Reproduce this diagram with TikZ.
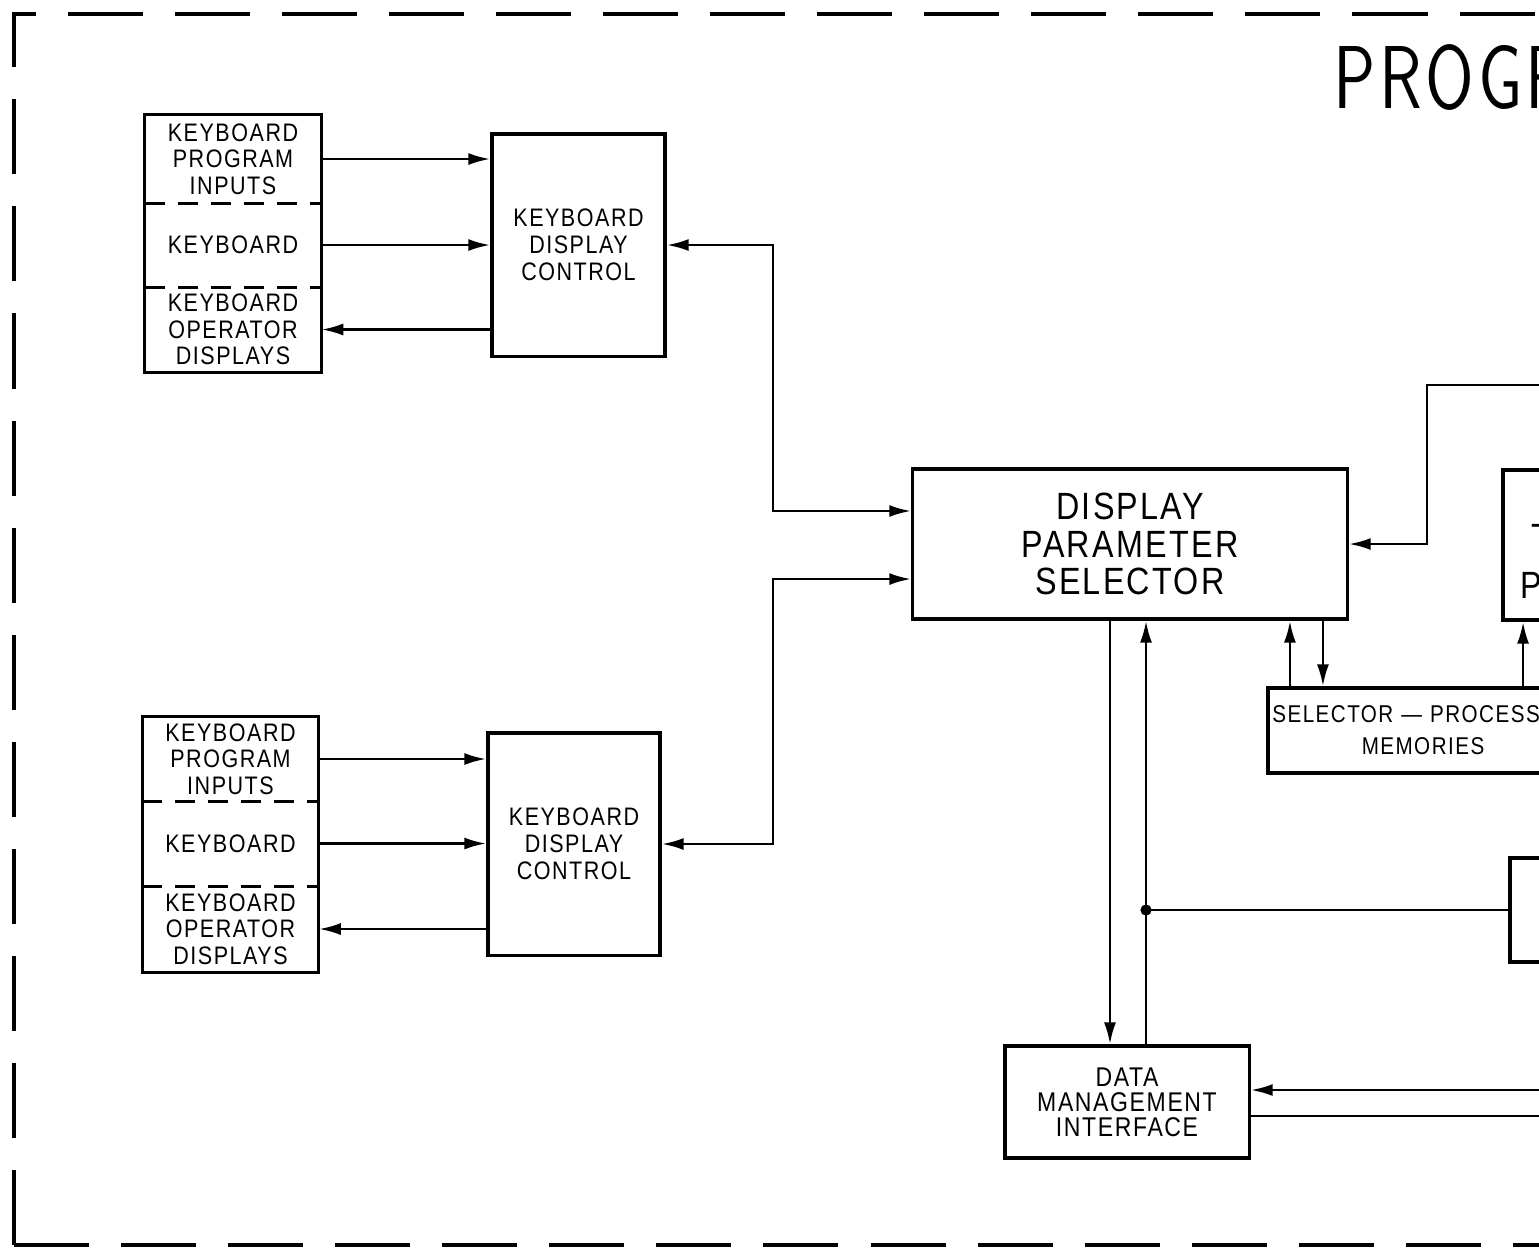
\documentclass[tikz,border=0pt]{standalone}
\usepackage{fontspec}
\usepackage{tikz}
\usetikzlibrary{arrows.meta, positioning, calc}
\newfontfamily\labelfont[FakeStretch=0.85,LetterSpace=6]{Liberation Sans}
\newfontfamily\titlefont[FakeStretch=0.74,LetterSpace=4]{lmsans10-regular.otf}
\newcommand{\smalllbl}{\labelfont\fontsize{7.2}{7.5}\selectfont}
\newcommand{\biglbl}{\labelfont\fontsize{10.8}{10.6}\selectfont}

\begin{document}
\begin{tikzpicture}[
    x=0.01cm, y=-0.01cm,
    block/.style={draw, line width=0.9pt, align=center, inner sep=0pt, font=\smalllbl},
    cell/.style={align=center, inner sep=0pt, font=\smalllbl, minimum width=1.75cm},
    flow/.style={-{Latex[length=2.2mm,width=1.2mm]}, line width=0.8pt},
    both/.style={{Latex[length=2.2mm,width=1.2mm]}-{Latex[length=2.2mm,width=1.2mm]}, line width=0.8pt},
    divider/.style={line width=0.8pt, dash pattern=on 2mm off 1.3mm},
    frame/.style={line width=1.3pt, dash pattern=on 7.5mm off 3.2mm}
]
    \useasboundingbox (0,0) rectangle (1539,1256);
    \fill[white] (0,0) rectangle (1539,1256);

    % outer frame
    \draw[frame] (14,1245) -- (14,14) -- (1600,14);
    \draw[frame] (14,1245) -- (1600,1245);

    % title
    \node[anchor=west, inner sep=0pt, font=\titlefont\fontsize{25.4}{26}\selectfont] (title) at (1333,77) {PROGR};

    % upper keyboard group
    \node[cell, minimum height=0.88cm] (kpi1) at (233,159) {KEYBOARD\\PROGRAM\\INPUTS};
    \node[cell, minimum height=0.84cm] (kb1) at (233,245) {KEYBOARD};
    \node[cell, minimum height=0.85cm] (kod1) at (233,329.5) {KEYBOARD\\OPERATOR\\DISPLAYS};
    \draw[line width=0.9pt] (kpi1.north west) rectangle (kod1.south east);
    \draw[divider] (kpi1.south west) -- (kpi1.south east);
    \draw[divider] (kb1.south west) -- (kb1.south east);
    \node[block, minimum width=1.73cm, minimum height=2.22cm, font=\labelfont\fontsize{7.2}{7.7}\selectfont] (kdc1) at (578.5,245) {KEYBOARD\\DISPLAY\\CONTROL};

    % lower keyboard group
    \node[cell, minimum height=0.84cm] (kpi2) at (230.5,759) {KEYBOARD\\PROGRAM\\INPUTS};
    \node[cell, minimum height=0.85cm] (kb2) at (230.5,843.5) {KEYBOARD};
    \node[cell, minimum height=0.86cm] (kod2) at (230.5,929) {KEYBOARD\\OPERATOR\\DISPLAYS};
    \draw[line width=0.9pt] (kpi2.north west) rectangle (kod2.south east);
    \draw[divider] (kpi2.south west) -- (kpi2.south east);
    \draw[divider] (kb2.south west) -- (kb2.south east);
    \node[block, minimum width=1.72cm, minimum height=2.22cm, font=\labelfont\fontsize{7.2}{7.7}\selectfont] (kdc2) at (574,844) {KEYBOARD\\DISPLAY\\CONTROL};

    % centre blocks
    \node[block, minimum width=4.34cm, minimum height=1.50cm, font=\biglbl] (dps) at (1130,544) {DISPLAY\\PARAMETER\\SELECTOR};
    \node[block, minimum width=2.44cm, minimum height=1.12cm, font=\labelfont\fontsize{7.7}{7.1}\selectfont] (dmi) at (1127,1102) {DATA\\MANAGEMENT\\INTERFACE};
    \node[block, minimum width=3.10cm, minimum height=0.85cm, text width=3.10cm, font=\labelfont\fontsize{6.9}{9.1}\selectfont] (spm) at (1423,730.5) {SELECTOR — PROCESSOR\\MEMORIES};

    % right blocks (cut by the sheet edge)
    \node[block, minimum width=2.00cm, minimum height=1.50cm] (tproc) at (1603,545) {};
    \node[anchor=west, inner sep=0pt, font=\biglbl] (tp1) at (1531,537) {T};
    \node[anchor=west, inner sep=0pt, font=\biglbl] (tp2) at (1520,585) {P};
    \node[block, minimum width=2.00cm, minimum height=1.04cm] (rb2) at (1610,910) {};

    % keyboard links
    \draw[flow] (kpi1.east) -- (kpi1.east -| kdc1.west);
    \draw[flow] (kb1.east) -- (kb1.east -| kdc1.west);
    \draw[flow] (kod1.east -| kdc1.west) -- (kod1.east);
    \draw[flow] (kpi2.east) -- (kpi2.east -| kdc2.west);
    \draw[flow] (kb2.east) -- (kb2.east -| kdc2.west);
    \draw[flow] (kod2.east -| kdc2.west) -- (kod2.east);

    % display controls to selector
    \coordinate (bus) at (773,0);
    \draw[both] (kdc1.east) -- (kdc1.east -| bus) |- ([yshift=0.33cm]dps.west);
    \draw[both] (kdc2.east) -- (kdc2.east -| bus) |- ([yshift=-0.35cm]dps.west);

    % from the right
    \coordinate (rin) at (1600,385);
    \draw[flow] (rin) -- (1427,385) |- (dps.east);

    % selector and memories
    \draw[flow] ([xshift=-1.33cm]spm.north) -- ([xshift=-1.33cm]spm.north |- dps.south);
    \draw[flow] ([xshift=-1.0cm]spm.north |- dps.south) -- ([xshift=-1.0cm]spm.north);
    \draw[flow] ([xshift=1.0cm]spm.north) -- ([xshift=1.0cm]spm.north |- tproc.south);

    % selector and data management
    \draw[flow] ([xshift=-0.2cm]dps.south) -- ([xshift=-0.2cm]dps.south |- dmi.north);
    \draw[flow] ([xshift=0.16cm]dps.south |- dmi.north) -- ([xshift=0.16cm]dps.south);
    \coordinate (tap) at ([xshift=0.16cm]dps.south |- rb2.west);
    \fill (tap) circle (1.6pt);
    \draw[line width=0.8pt] (tap) -- (rb2.west);

    \coordinate (rin2) at (1600,1090);
    \coordinate (rout) at (1600,1116);
    \draw[flow] (rin2) -- (rin2 -| dmi.east);
    \draw[line width=0.8pt] (rout -| dmi.east) -- (rout);
\end{tikzpicture}
\end{document}
